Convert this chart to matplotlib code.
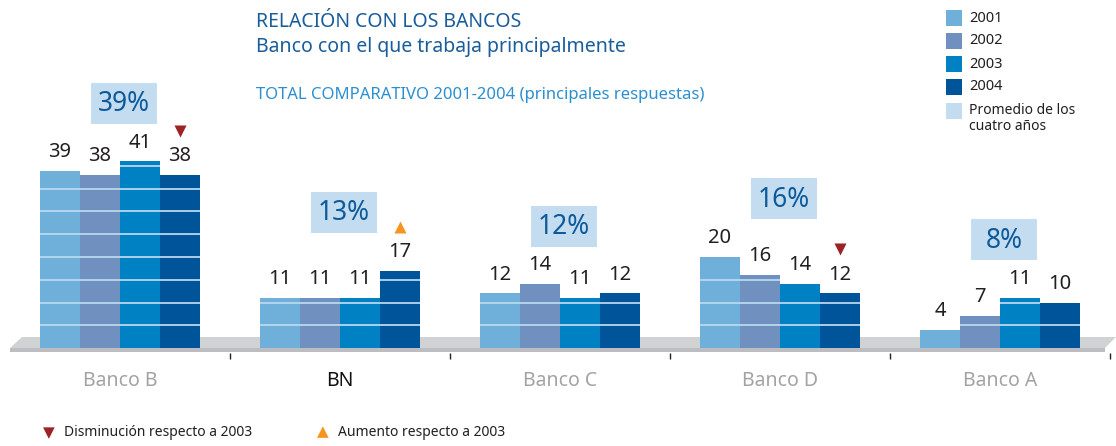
import matplotlib
matplotlib.use("Agg")
import matplotlib.pyplot as plt
from matplotlib.patches import Polygon, Rectangle

banks = ["Banco B", "BN", "Banco C", "Banco D", "Banco A"]
years = ["2001", "2002", "2003", "2004"]
v2001 = [39, 11, 12, 20, 4]
v2002 = [38, 11, 14, 16, 7]
v2003 = [41, 11, 11, 14, 11]
v2004 = [38, 17, 12, 12, 10]
averages = ["39%", "13%", "12%", "16%", "8%"]
trend_2004 = ["down", "up", None, "down", None]

colors = ["#6fb0da", "#7090bf", "#0081c4", "#00559a"]
avg_color = "#c3dcef"
dark_blue = "#0d5a9b"
FONT = "Noto Sans"

W, H = 1116, 446
PX = 4.55  # pixels per unit


def fx(px):
    return px / W


def fy(py):
    return 1 - py / H


fig = plt.figure(figsize=(W / 100, H / 100), dpi=100)
ax = fig.add_axes([0, 0, 1, 1])
ax.set_xlim(-120 / 220, (W - 120) / 220)
ax.set_ylim(-(H - 348) / PX, 348 / PX)
ax.axis("off")

# floor (drawn inside the axes, under the bars)
ax.add_patch(Polygon([(fx(10), fy(348)), (fx(1105), fy(348)), (fx(1116), fy(337)), (fx(22), fy(337))],
                     closed=True, transform=fig.transFigure, facecolor="#d1d2d4",
                     edgecolor="none", zorder=1))
ax.add_patch(Rectangle((fx(10), fy(352)), fx(1095), fy(348) - fy(352), transform=fig.transFigure,
                       facecolor="#bcbdc0", edgecolor="none", zorder=1))

series = [v2001, v2002, v2003, v2004]
bw = 40 / 220
offsets = [-1.5 * bw, -0.5 * bw, 0.5 * bw, 1.5 * bw]

for vals, col, off in zip(series, colors, offsets):
    xs = [i + off for i in range(len(banks))]
    ax.bar(xs, vals, width=bw, color=col, zorder=2)
    for x, v in zip(xs, vals):
        lvl = 5
        while lvl < v:
            ax.hlines(lvl, x - bw / 2, x + bw / 2, color="#b9d7ee", lw=1.3, zorder=3)
            lvl += 5
        ax.annotate(str(v), (x, v), xytext=(0, 10), textcoords="offset points",
                    ha="center", va="baseline", fontsize=14.5, family=FONT,
                    color="#231f20", zorder=4)

for i, name in enumerate(banks):
    top = max(v2001[i], v2002[i], v2003[i], v2004[i])
    cy = top + 12.8
    bh = 41 / PX
    ax.add_patch(Rectangle((i + 4 / 220 - 33 / 220, cy - bh / 2), 66 / 220, bh,
                           facecolor=avg_color, edgecolor="none", zorder=2))
    ax.text(i + 4 / 220, cy - 0.2, averages[i], ha="center", va="center", fontsize=19,
            family=FONT, color=dark_blue, zorder=3)
    ax.text(i, -7.3, name, ha="center", va="center", fontsize=14, family=FONT,
            color="#111111" if name == "BN" else "#a3a3a5")
    t = trend_2004[i]
    if t:
        ax.scatter([i + offsets[3]], [v2004[i] + 9.7], marker="v" if t == "down" else "^",
                   s=75, color="#9b2226" if t == "down" else "#f7941d", lw=0, zorder=4)

# ticks between groups
for i in range(len(banks)):
    ax.vlines(i + 0.5, -(353 - 348) / PX, -(359 - 348) / PX, color="#222222", lw=1)

# titles
fig.text(fx(256), fy(22), "RELACIÓN CON LOS BANCOS", fontsize=14, family=FONT,
         color="#1a5d9b", va="center")
fig.text(fx(256), fy(47), "Banco con el que trabaja principalmente", fontsize=14, family=FONT,
         color="#1a5d9b", va="center")
fig.text(fx(256), fy(95), "TOTAL COMPARATIVO 2001-2004 (principales respuestas)", fontsize=12,
         family=FONT, color="#2b8fd0", va="center")

# legend
rows = [18, 41, 64, 87]
for yr, col, r in zip(years, colors, rows):
    fig.patches.append(Rectangle((fx(946), fy(r + 8)), fx(16), fy(r - 8) - fy(r + 8),
                                 transform=fig.transFigure, facecolor=col, edgecolor="none"))
    fig.text(fx(969), fy(r), yr, fontsize=10.5, family=FONT, color="#231f20", va="center")
fig.patches.append(Rectangle((fx(946), fy(119)), fx(16), fy(103) - fy(119),
                             transform=fig.transFigure, facecolor=avg_color, edgecolor="none"))
fig.text(fx(969), fy(111), "Promedio de los", fontsize=10, family=FONT, color="#231f20", va="center")
fig.text(fx(969), fy(127), "cuatro años", fontsize=10, family=FONT, color="#231f20", va="center")

# bottom legend
fig.text(fx(49), fy(433), "▼", fontsize=11, color="#9b2226", ha="center", va="center", family="DejaVu Sans")
fig.text(fx(64), fy(433), "Disminución respecto a 2003", fontsize=10, family=FONT, color="#231f20", va="center")
fig.text(fx(323), fy(432), "▲", fontsize=11, color="#f7941d", ha="center", va="center", family="DejaVu Sans")
fig.text(fx(338), fy(433), "Aumento respecto a 2003", fontsize=10, family=FONT, color="#231f20", va="center")

fig.savefig("out.png", dpi=100)
